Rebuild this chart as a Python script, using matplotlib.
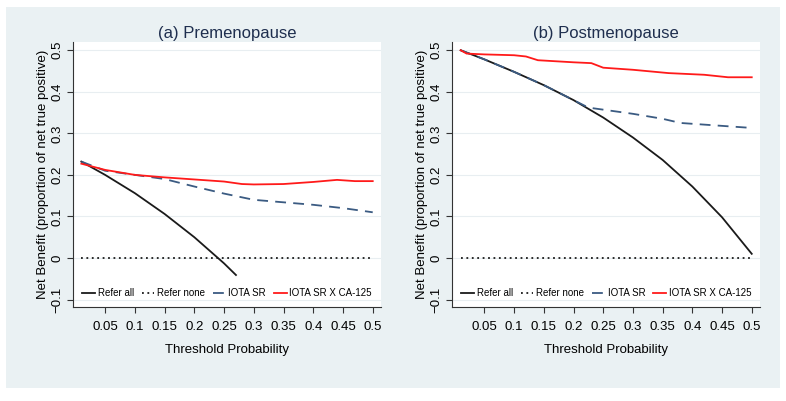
import matplotlib.pyplot as plt
from matplotlib.patches import Rectangle

plt.rcParams['font.family'] = ['Liberation Sans', 'DejaVu Sans']

# threshold probabilities
pt_all_a = [0.01, 0.05, 0.1, 0.15, 0.2, 0.25, 0.27]
nb_all_a = [0.232, 0.200, 0.156, 0.106, 0.050, -0.013, -0.041]
pt_sr_a = [0.01, 0.05, 0.1, 0.15, 0.2, 0.25, 0.3, 0.35, 0.4, 0.45, 0.5]
nb_sr_a = [0.232, 0.210, 0.200, 0.190, 0.172, 0.155, 0.140, 0.134, 0.128, 0.120, 0.110]
pt_ca_a = [0.01, 0.05, 0.1, 0.15, 0.2, 0.25, 0.28, 0.3, 0.35, 0.4, 0.44, 0.47, 0.5]
nb_ca_a = [0.227, 0.212, 0.200, 0.194, 0.189, 0.184, 0.178, 0.177, 0.178, 0.183, 0.188, 0.185, 0.185]

pt_all_b = [0.01, 0.05, 0.1, 0.15, 0.2, 0.25, 0.3, 0.35, 0.4, 0.45, 0.5]
nb_all_b = [0.500, 0.478, 0.448, 0.416, 0.380, 0.338, 0.290, 0.236, 0.172, 0.098, 0.010]
pt_sr_b = [0.01, 0.05, 0.1, 0.15, 0.2, 0.225, 0.25, 0.3, 0.35, 0.38, 0.42, 0.5]
nb_sr_b = [0.500, 0.478, 0.448, 0.416, 0.380, 0.362, 0.357, 0.347, 0.335, 0.325, 0.321, 0.313]
pt_ca_b = [0.01, 0.02, 0.05, 0.1, 0.12, 0.14, 0.2, 0.23, 0.25, 0.3, 0.36, 0.42, 0.46, 0.5]
nb_ca_b = [0.500, 0.492, 0.490, 0.488, 0.485, 0.476, 0.471, 0.469, 0.458, 0.453, 0.445, 0.441, 0.435, 0.435]

pt_none = [0.01, 0.5]
nb_none = [0, 0]

xticks = [0.05, 0.1, 0.15, 0.2, 0.25, 0.3, 0.35, 0.4, 0.45, 0.5]
xticklabels = ['0.05', '0.1', '0.15', '0.2', '0.25', '0.3', '0.35', '0.4', '0.45', '0.5']
yticks = [-0.1, 0, 0.1, 0.2, 0.3, 0.4, 0.5]
yticklabels = ['\u22120.1', '0', '0.1', '0.2', '0.3', '0.4', '0.5']

panels = [
    ('(a) Premenopause', pt_all_a, nb_all_a, pt_sr_a, nb_sr_a, pt_ca_a, nb_ca_a),
    ('(b) Postmenopause', pt_all_b, nb_all_b, pt_sr_b, nb_sr_b, pt_ca_b, nb_ca_b),
]

bg = '#eaf1f3'
fig = plt.figure(figsize=(7.86, 4.01), dpi=100, facecolor='white')
fig.patches.append(Rectangle((6 / 786, 1 - 388 / 401), 774 / 786, 381 / 401,
                             transform=fig.transFigure, facecolor=bg,
                             edgecolor='none', zorder=-10))

positions = [[0.0929, 0.2344, 0.3919, 0.661], [0.5755, 0.2344, 0.3915, 0.661]]

for pos, (title, pa, na, ps, ns, pc, nc) in zip(positions, panels):
    ax = fig.add_axes(pos)
    ax.set_facecolor('white')
    for y in yticks:
        ax.axhline(y, color='#e8eef1', lw=0.8, zorder=0)
    ax.plot(pa, na, color='#1a1a1a', lw=1.3, label='Refer all')
    ax.plot(pt_none, nb_none, color='#1a1a1a', lw=1.3, ls=(0, (1, 2)), label='Refer none')
    ax.plot(ps, ns, color='#3b5b82', lw=1.3, ls=(0, (6, 4)), label='IOTA SR')
    ax.plot(pc, nc, color='#ff1a1a', lw=1.3, label='IOTA SR X CA-125')

    ax.set_xlim(-0.004, 0.514)
    ax.set_ylim(-0.118, 0.52)
    ax.set_xticks(xticks)
    ax.set_xticklabels(xticklabels, fontsize=9.5)
    ax.set_yticks(yticks)
    ax.set_yticklabels(yticklabels, fontsize=9.5, rotation=90, va='center')
    ax.tick_params(length=4, width=0.8, color='#333333')
    ax.tick_params(axis='x', pad=6)
    ax.tick_params(axis='y', pad=3)
    for s in ['top', 'right']:
        ax.spines[s].set_visible(False)
    for s in ['left', 'bottom']:
        ax.spines[s].set_color('#333333')
        ax.spines[s].set_linewidth(0.8)

    ax.set_title(title, fontsize=12, color='#1e2e4e', pad=3)
    ax.set_xlabel('Threshold Probability', fontsize=9.5, labelpad=8)
    ax.set_ylabel('Net Benefit (proportion of net true positive)', fontsize=9.5, labelpad=2)
    ax.legend(loc='lower center', ncol=4, frameon=False, fontsize=7,
              handlelength=1.3, handletextpad=0.3, columnspacing=0.8,
              bbox_to_anchor=(0.5, 0.0))

fig.savefig('out.png', dpi=100, facecolor='white')
